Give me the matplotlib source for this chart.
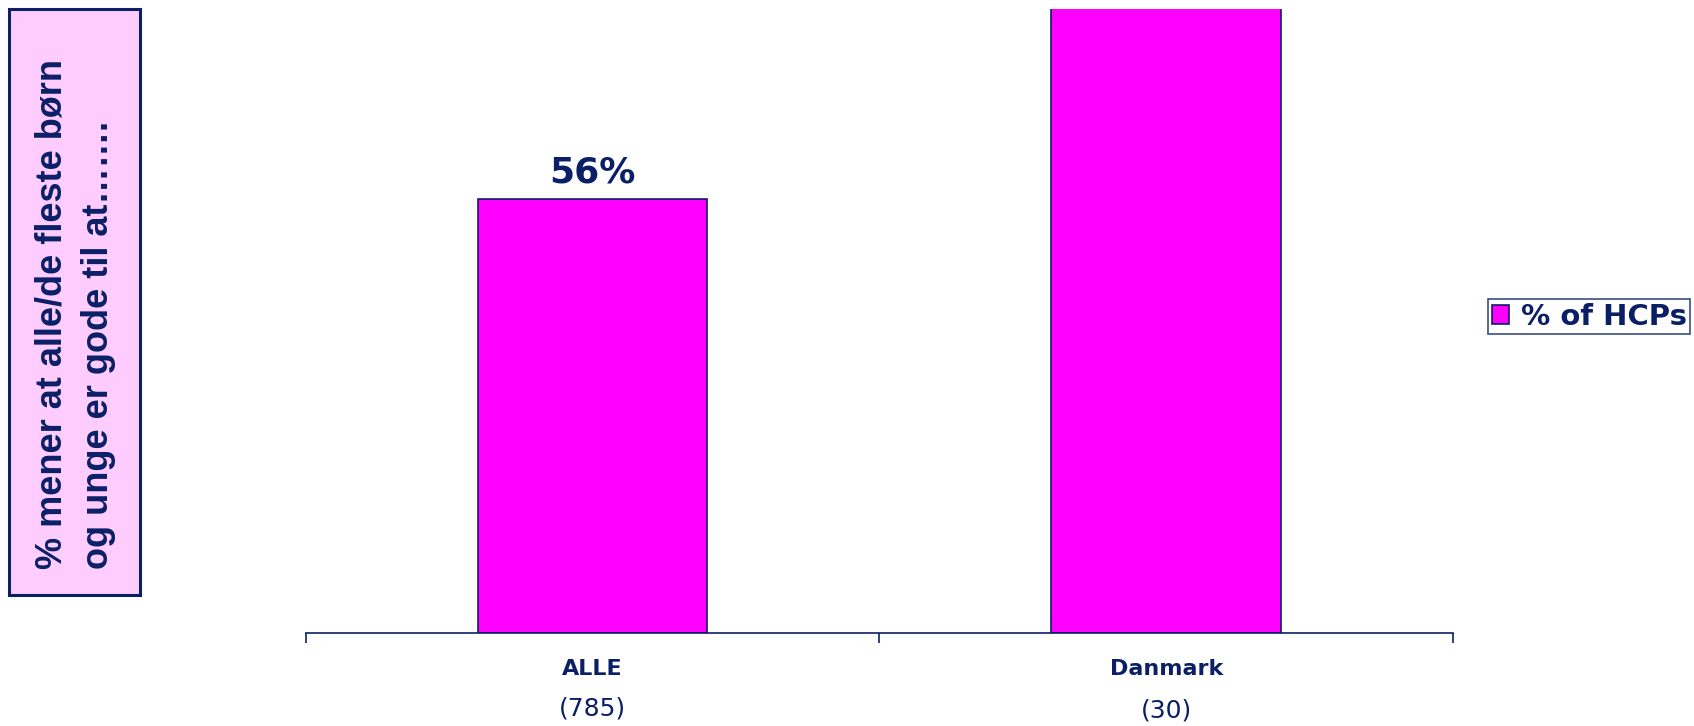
import matplotlib
matplotlib.use("Agg")
import matplotlib.pyplot as plt
from matplotlib.patches import Rectangle

categories = ["ALLE", "Danmark"]
sample_sizes = ["(785)", "(30)"]
values = [56, 92]
value_labels = ["56%", "92%"]
series_name = "% of HCPs"
ylabel_lines = "% mener at alle/de fleste børn\nog unge er gode til at……."

NAVY = "#0a1f66"
MAGENTA = "#FF00FF"
PINK = "#FFCCFF"

fig = plt.figure(figsize=(16.94, 7.26), dpi=100)
ax = fig.add_axes([0.1806, 0.128, 0.6771, 0.8596])

x = list(range(len(categories)))
bars = ax.bar(x, values, width=0.4, color=MAGENTA, edgecolor=NAVY, linewidth=1.2,
              label=series_name, zorder=2)
ax.set_xlim(-0.5, len(categories) - 0.5)
ax.set_ylim(0, 80.5)

for xi, v, lab in zip(x, values, value_labels):
    ax.annotate(lab, (xi, v), xytext=(0, 7), textcoords="offset points",
                ha="center", va="bottom", fontsize=26, fontweight="bold",
                color=NAVY, family="DejaVu Sans", annotation_clip=True)

for s in ["left", "top", "right"]:
    ax.spines[s].set_visible(False)
ax.spines["bottom"].set_color(NAVY)
ax.spines["bottom"].set_linewidth(1.2)
ax.set_yticks([])

ax.set_xticks([i - 0.5 for i in range(len(categories) + 1)], minor=True)
ax.set_xticks(x)
ax.set_xticklabels(categories, fontsize=16, fontweight="bold", color=NAVY,
                   family="DejaVu Sans")
ax.tick_params(axis="x", which="major", length=0, pad=19)
ax.tick_params(axis="x", which="minor", length=7, width=1.2, color=NAVY, direction="out")

for xi, n, dy in zip(x, sample_sizes, [-54, -56]):
    ax.annotate(n, (xi, 0), xycoords=("data", "axes fraction"), xytext=(0, dy),
                textcoords="offset points", ha="center", va="center",
                fontsize=18, color=NAVY, family="DejaVu Sans", annotation_clip=False)

leg = fig.legend(loc="upper left", bbox_to_anchor=(0.8784, 0.588), frameon=True,
                 fancybox=False, prop={"family": "DejaVu Sans", "weight": "bold", "size": 21},
                 handlelength=0.6, handleheight=0.6, handletextpad=0.4,
                 borderpad=0.12, borderaxespad=0)
leg.get_frame().set_edgecolor(NAVY)
leg.get_frame().set_linewidth(1.2)
for t in leg.get_texts():
    t.set_color(NAVY)

fig.patches.append(Rectangle((0.0053, 0.1804), 0.0773, 0.807, transform=fig.transFigure,
                             facecolor=PINK, edgecolor=NAVY, linewidth=2.2, zorder=0))
fig.text(0.0445, 0.567, ylabel_lines, rotation=90, ha="center", va="center",
         multialignment="left", fontsize=26, fontweight="bold", color=NAVY,
         family=["Liberation Sans", "Arial", "DejaVu Sans"], linespacing=1.4)

fig.savefig("out.png", dpi=100)
